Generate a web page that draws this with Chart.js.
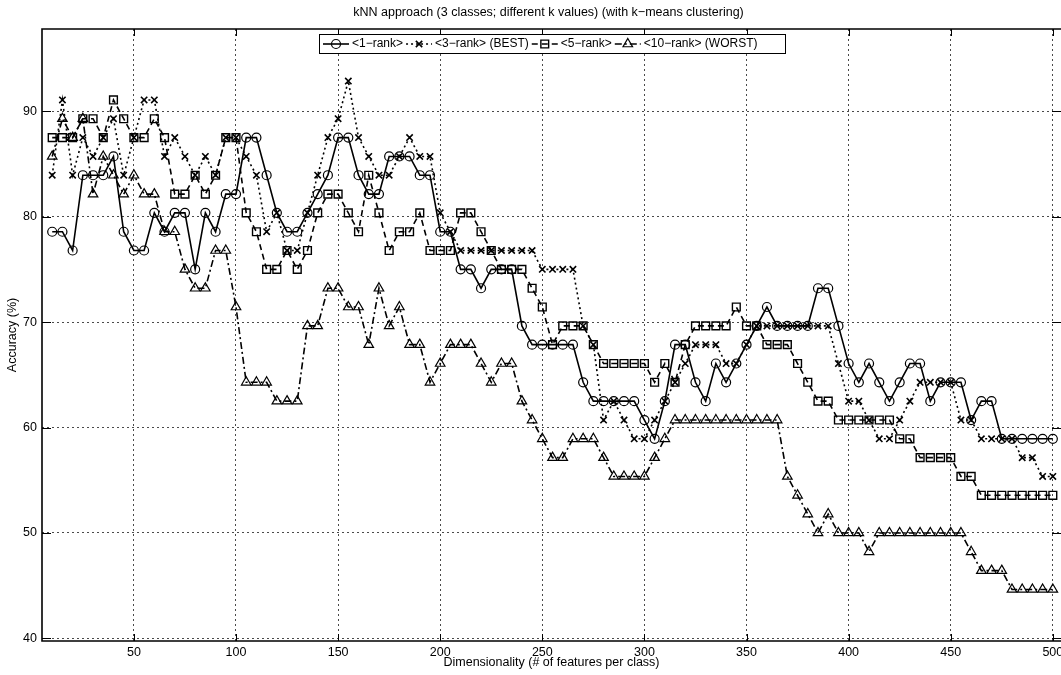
<!DOCTYPE html>
<html>
<head>
<meta charset="utf-8">
<script src="https://cdn.jsdelivr.net/npm/chart.js@4.4.0/dist/chart.umd.min.js"></script>
<style>
  html, body { margin: 0; padding: 0; background: #fff; overflow: hidden; }
  canvas { display: block; }
</style>
</head>
<body>
<canvas id="chart" width="1061" height="675"></canvas>
<script>
// Размерность (число признаков на класс)
const dims = [
  10, 15, 20, 25, 30, 35, 40, 45, 50, 55,
  60, 65, 70, 75, 80, 85, 90, 95, 100, 105,
  110, 115, 120, 125, 130, 135, 140, 145, 150, 155,
  160, 165, 170, 175, 180, 185, 190, 195, 200, 205,
  210, 215, 220, 225, 230, 235, 240, 245, 250, 255,
  260, 265, 270, 275, 280, 285, 290, 295, 300, 305,
  310, 315, 320, 325, 330, 335, 340, 345, 350, 355,
  360, 365, 370, 375, 380, 385, 390, 395, 400, 405,
  410, 415, 420, 425, 430, 435, 440, 445, 450, 455,
  460, 465, 470, 475, 480, 485, 490, 495, 500
];

// Точность (%) для каждого ранга
const rank1 = [
  78.57, 78.57, 76.79, 83.93, 83.93, 83.93, 85.71, 78.57, 76.79, 76.79,
  80.36, 78.57, 80.36, 80.36, 75.00, 80.36, 78.57, 82.14, 82.14, 87.50,
  87.50, 83.93, 80.36, 78.57, 78.57, 80.36, 82.14, 83.93, 87.50, 87.50,
  83.93, 82.14, 82.14, 85.71, 85.71, 85.71, 83.93, 83.93, 78.57, 78.57,
  75.00, 75.00, 73.21, 75.00, 75.00, 75.00, 69.64, 67.86, 67.86, 67.86,
  67.86, 67.86, 64.29, 62.50, 62.50, 62.50, 62.50, 62.50, 60.71, 58.93,
  62.50, 67.86, 67.86, 64.29, 62.50, 66.07, 64.29, 66.07, 67.86, 69.64,
  71.43, 69.64, 69.64, 69.64, 69.64, 73.21, 73.21, 69.64, 66.07, 64.29,
  66.07, 64.29, 62.50, 64.29, 66.07, 66.07, 62.50, 64.29, 64.29, 64.29,
  60.71, 62.50, 62.50, 58.93, 58.93, 58.93, 58.93, 58.93, 58.93
];
const rank3 = [
  83.93, 91.07, 83.93, 87.50, 85.71, 87.50, 89.29, 83.93, 87.50, 91.07,
  91.07, 85.71, 87.50, 85.71, 83.93, 85.71, 83.93, 87.50, 87.50, 85.71,
  83.93, 78.57, 80.36, 76.79, 76.79, 80.36, 83.93, 87.50, 89.29, 92.86,
  87.50, 85.71, 83.93, 83.93, 85.71, 87.50, 85.71, 85.71, 80.36, 78.57,
  76.79, 76.79, 76.79, 76.79, 76.79, 76.79, 76.79, 76.79, 75.00, 75.00,
  75.00, 75.00, 69.64, 67.86, 60.71, 62.50, 60.71, 58.93, 58.93, 60.71,
  62.50, 64.29, 66.07, 67.86, 67.86, 67.86, 66.07, 66.07, 67.86, 69.64,
  69.64, 69.64, 69.64, 69.64, 69.64, 69.64, 69.64, 66.07, 62.50, 62.50,
  60.71, 58.93, 58.93, 60.71, 62.50, 64.29, 64.29, 64.29, 64.29, 60.71,
  60.71, 58.93, 58.93, 58.93, 58.93, 57.14, 57.14, 55.36, 55.36
];
const rank5 = [
  87.50, 87.50, 87.50, 89.29, 89.29, 87.50, 91.07, 89.29, 87.50, 87.50,
  89.29, 87.50, 82.14, 82.14, 83.93, 82.14, 83.93, 87.50, 87.50, 80.36,
  78.57, 75.00, 75.00, 76.79, 75.00, 76.79, 80.36, 82.14, 82.14, 80.36,
  78.57, 83.93, 80.36, 76.79, 78.57, 78.57, 80.36, 76.79, 76.79, 76.79,
  80.36, 80.36, 78.57, 76.79, 75.00, 75.00, 75.00, 73.21, 71.43, 67.86,
  69.64, 69.64, 69.64, 67.86, 66.07, 66.07, 66.07, 66.07, 66.07, 64.29,
  66.07, 64.29, 67.86, 69.64, 69.64, 69.64, 69.64, 71.43, 69.64, 69.64,
  67.86, 67.86, 67.86, 66.07, 64.29, 62.50, 62.50, 60.71, 60.71, 60.71,
  60.71, 60.71, 60.71, 58.93, 58.93, 57.14, 57.14, 57.14, 57.14, 55.36,
  55.36, 53.57, 53.57, 53.57, 53.57, 53.57, 53.57, 53.57, 53.57
];
const rank10 = [
  85.71, 89.29, 87.50, 89.29, 82.14, 85.71, 83.93, 82.14, 83.93, 82.14,
  82.14, 78.57, 78.57, 75.00, 73.21, 73.21, 76.79, 76.79, 71.43, 64.29,
  64.29, 64.29, 62.50, 62.50, 62.50, 69.64, 69.64, 73.21, 73.21, 71.43,
  71.43, 67.86, 73.21, 69.64, 71.43, 67.86, 67.86, 64.29, 66.07, 67.86,
  67.86, 67.86, 66.07, 64.29, 66.07, 66.07, 62.50, 60.71, 58.93, 57.14,
  57.14, 58.93, 58.93, 58.93, 57.14, 55.36, 55.36, 55.36, 55.36, 57.14,
  58.93, 60.71, 60.71, 60.71, 60.71, 60.71, 60.71, 60.71, 60.71, 60.71,
  60.71, 60.71, 55.36, 53.57, 51.79, 50.00, 51.79, 50.00, 50.00, 50.00,
  48.21, 50.00, 50.00, 50.00, 50.00, 50.00, 50.00, 50.00, 50.00, 50.00,
  48.21, 46.43, 46.43, 46.43, 44.64, 44.64, 44.64, 44.64, 44.64
];

const seriesNames = ["<1\u2212rank>", "<3\u2212rank> (BEST)", "<5\u2212rank>", "<10\u2212rank> (WORST)"];
const xTicks = [50, 100, 150, 200, 250, 300, 350, 400, 450, 500];
const yTicks = [40, 50, 60, 70, 80, 90];

const FONT = "'Liberation Sans', Arial, Helvetica, sans-serif";
Chart.defaults.font.family = FONT;
Chart.defaults.font.size = 12.5;
Chart.defaults.color = "#000";

function toPoints(values) {
  return values.map((v, i) => ({ x: dims[i], y: v }));
}

// Маркеры для легенды (та же геометрия, что в Chart.js)
function drawMarker(ctx, style, r, x, y) {
  ctx.beginPath();
  if (style === "circle") {
    ctx.arc(x, y, r, 0, Math.PI * 2);
  } else if (style === "crossRot") {
    const o = r * Math.SQRT1_2;
    ctx.moveTo(x - o, y - o); ctx.lineTo(x + o, y + o);
    ctx.moveTo(x - o, y + o); ctx.lineTo(x + o, y - o);
  } else if (style === "rect") {
    const s = r * Math.SQRT1_2;
    ctx.rect(x - s, y - s, 2 * s, 2 * s);
  } else if (style === "triangle") {
    ctx.moveTo(x, y - r);
    ctx.lineTo(x + r * 0.866, y + r * 0.5);
    ctx.lineTo(x - r * 0.866, y + r * 0.5);
    ctx.closePath();
  }
  ctx.stroke();
}

function drawLegend(chart) {
  const ctx = chart.ctx;
  const box = { x: 319, y: 34, w: 466, h: 19 };
  ctx.save();
  ctx.fillStyle = "#fff";
  ctx.fillRect(box.x, box.y, box.w, box.h);
  ctx.setLineDash([]);
  ctx.strokeStyle = "#000";
  ctx.lineWidth = 1;
  ctx.strokeRect(box.x + 0.5, box.y + 0.5, box.w, box.h);
  ctx.font = "12px " + FONT;
  ctx.textBaseline = "middle";
  const cy = box.y + box.h / 2 + 0.5;
  let x = box.x + 4;
  for (const ds of chart.data.datasets) {
    ctx.strokeStyle = "#000";
    ctx.lineWidth = ds.borderWidth;
    ctx.setLineDash(ds.borderDash);
    ctx.beginPath();
    ctx.moveTo(x, cy);
    ctx.lineTo(x + 26, cy);
    ctx.stroke();
    ctx.setLineDash([]);
    ctx.lineWidth = ds.pointBorderWidth;
    drawMarker(ctx, ds.pointStyle, ds.pointRadius, x + 13, cy);
    ctx.fillStyle = "#000";
    ctx.fillText(ds.label, x + 29, cy);
    x += 29 + ctx.measureText(ds.label).width + 3;
  }
  ctx.restore();
}

// Рамка осей, засечки внутрь, заголовок и легенда
const framePlugin = {
  id: "frame",
  afterDatasetsDraw(chart) {
    const { ctx, chartArea: a, scales } = chart;
    ctx.save();
    ctx.setLineDash([]);
    ctx.strokeStyle = "#000";
    ctx.lineWidth = 1;
    ctx.beginPath();
    for (const v of xTicks) {
      const x = Math.round(scales.x.getPixelForValue(v)) + 0.5;
      ctx.moveTo(x, a.bottom); ctx.lineTo(x, a.bottom - 7);
      ctx.moveTo(x, a.top); ctx.lineTo(x, a.top + 7);
    }
    for (const v of yTicks) {
      const y = Math.round(scales.y.getPixelForValue(v)) + 0.5;
      ctx.moveTo(a.left, y); ctx.lineTo(a.left + 9, y);
      ctx.moveTo(a.right, y); ctx.lineTo(a.right - 9, y);
    }
    ctx.stroke();

    ctx.lineWidth = 1.6;
    ctx.beginPath();
    ctx.moveTo(a.right, a.top);
    ctx.lineTo(a.left, a.top);
    ctx.lineTo(a.left, a.bottom);
    ctx.lineTo(a.right, a.bottom);
    ctx.stroke();

    ctx.fillStyle = "#000";
    ctx.font = "12.5px " + FONT;
    ctx.textAlign = "center";
    ctx.textBaseline = "middle";
    ctx.fillText("kNN approach (3 classes; different k values) (with k\u2212means clustering)", (a.left + a.right) / 2 - 3, 12.5);
    ctx.restore();

    drawLegend(chart);
  }
};

const gridStyle = { color: "#4a4a4a", lineWidth: 1, drawTicks: false };

new Chart(document.getElementById("chart"), {
  type: "line",
  data: {
    datasets: [
      {
        label: seriesNames[0], data: toPoints(rank1),
        borderColor: "#000", borderWidth: 1.6, borderDash: [],
        pointStyle: "circle", pointRadius: 4.5, pointBorderWidth: 1.2,
        pointBorderColor: "#000", pointBackgroundColor: "rgba(0,0,0,0)"
      },
      {
        label: seriesNames[1], data: toPoints(rank3),
        borderColor: "#000", borderWidth: 1.6, borderDash: [2, 3],
        pointStyle: "crossRot", pointRadius: 4.5, pointBorderWidth: 1.6,
        pointBorderColor: "#000", pointBackgroundColor: "rgba(0,0,0,0)"
      },
      {
        label: seriesNames[2], data: toPoints(rank5),
        borderColor: "#000", borderWidth: 1.6, borderDash: [6, 4],
        pointStyle: "rect", pointRadius: 5.5, pointBorderWidth: 1.4,
        pointBorderColor: "#000", pointBackgroundColor: "rgba(0,0,0,0)"
      },
      {
        label: seriesNames[3], data: toPoints(rank10),
        borderColor: "#000", borderWidth: 1.6, borderDash: [7, 3, 2, 3],
        pointStyle: "triangle", pointRadius: 5.5, pointBorderWidth: 1.2,
        pointBorderColor: "#000", pointBackgroundColor: "rgba(0,0,0,0)"
      }
    ]
  },
  options: {
    responsive: false,
    animation: false,
    devicePixelRatio: 1,
    layout: { autoPadding: false, padding: { top: 29, right: 0, bottom: 0, left: 0 } },
    elements: { line: { tension: 0, fill: false } },
    plugins: {
      legend: { display: false },
      tooltip: { enabled: false },
      title: { display: false }
    },
    scales: {
      x: {
        type: "linear",
        min: 5,
        max: 504,
        afterBuildTicks: s => { s.ticks = xTicks.map(v => ({ value: v })); },
        afterFit: s => { s.height = 34; s.paddingLeft = 0; s.paddingRight = 0; },
        ticks: { padding: 4, maxRotation: 0, autoSkip: false },
        grid: gridStyle,
        border: { display: false, dash: [2, 3] },
        title: {
          display: true,
          text: "Dimensionality (# of features per class)",
          padding: { top: 0, bottom: 5 }
        }
      },
      y: {
        min: 39.75,
        max: 97.8,
        afterBuildTicks: s => { s.ticks = yTicks.map(v => ({ value: v })); },
        afterFit: s => { s.width = 42; s.paddingTop = 0; s.paddingBottom = 0; },
        ticks: { padding: 5 },
        grid: gridStyle,
        border: { display: false, dash: [2, 3] },
        title: {
          display: true,
          text: "Accuracy (%)",
          padding: { top: 5, bottom: 0 }
        }
      }
    }
  },
  plugins: [framePlugin]
});
</script>
</body>
</html>
